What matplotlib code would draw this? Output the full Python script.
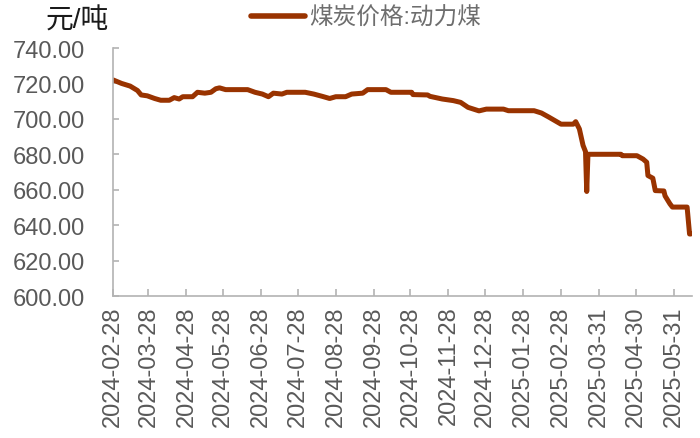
import matplotlib
matplotlib.use("Agg")
import matplotlib.pyplot as plt
import matplotlib.dates as mdates
import pandas as pd

plt.rcParams['font.family'] = ['Liberation Sans', 'Noto Sans CJK SC', 'DejaVu Sans']

dates = [
    "2024-02-28", "2024-03-06", "2024-03-13", "2024-03-19", "2024-03-22", "2024-03-27",
    "2024-04-02", "2024-04-07", "2024-04-14", "2024-04-18", "2024-04-22", "2024-04-25",
    "2024-05-03", "2024-05-07", "2024-05-13", "2024-05-18", "2024-05-22", "2024-05-25",
    "2024-05-30", "2024-06-17", "2024-06-23", "2024-06-29", "2024-07-04", "2024-07-08",
    "2024-07-15", "2024-07-19", "2024-08-03", "2024-08-10", "2024-08-17", "2024-08-23",
    "2024-08-28", "2024-09-05", "2024-09-10", "2024-09-19", "2024-09-23", "2024-10-08",
    "2024-10-12", "2024-10-29", "2024-10-30", "2024-11-11", "2024-11-13", "2024-11-23",
    "2024-12-02", "2024-12-08", "2024-12-14", "2024-12-23", "2024-12-29", "2025-01-12",
    "2025-01-16", "2025-02-06", "2025-02-12", "2025-02-18", "2025-02-28", "2025-03-10",
    "2025-03-12", "2025-03-15", "2025-03-18", "2025-03-20", "2025-03-21", "2025-03-22",
    "2025-04-18", "2025-04-19", "2025-05-01", "2025-05-06", "2025-05-09", "2025-05-10",
    "2025-05-14", "2025-05-16", "2025-05-23", "2025-05-24", "2025-05-28", "2025-05-30",
    "2025-06-11", "2025-06-13", "2025-06-14",
]
prices = [
    722.0, 720.0, 718.5, 716.0, 713.5, 713.0,
    711.5, 710.5, 710.5, 712.0, 711.2, 712.5,
    712.5, 715.0, 714.5, 715.0, 717.0, 717.5,
    716.5, 716.5, 715.0, 714.0, 712.5, 714.5,
    714.0, 715.0, 715.0, 714.0, 712.7, 711.5,
    712.5, 712.5, 714.0, 714.5, 716.5, 716.5,
    715.0, 715.0, 713.7, 713.5, 712.7, 711.2,
    710.3, 709.3, 706.5, 704.5, 705.5, 705.5,
    704.6, 704.6, 703.3, 701.0, 697.0, 697.0,
    698.4, 694.3, 685.0, 681.5, 659.0, 680.0,
    680.0, 679.2, 679.2, 677.3, 675.5, 668.0,
    666.5, 659.5, 659.3, 656.5, 652.0, 650.2,
    650.2, 635.0, 635.0,
]
tick_dates = [
    "2024-02-28", "2024-03-28", "2024-04-28", "2024-05-28", "2024-06-28", "2024-07-28",
    "2024-08-28", "2024-09-28", "2024-10-28", "2024-11-28", "2024-12-28", "2025-01-28",
    "2025-02-28", "2025-03-31", "2025-04-30", "2025-05-31",
]
y_ticks = [600, 620, 640, 660, 680, 700, 720, 740]
series_name = "煤炭价格:动力煤"
unit_label = "元/吨"

x = pd.to_datetime(dates)
xt = pd.to_datetime(tick_dates)

fig = plt.figure(figsize=(7.0, 4.39), dpi=100)
ax = fig.add_axes([113/700, 1-297/439, (692-113)/700, (297-49)/439])

line_color = "#993300"
ax.plot(x, prices, color=line_color, lw=3.6, solid_capstyle='round', solid_joinstyle='round',
        label=series_name)

ax.set_ylim(600, 740)
ax.set_yticks(y_ticks)
ax.set_yticklabels([f"{v:.2f}" for v in y_ticks])
ax.set_xlim(pd.Timestamp("2024-02-28"), pd.Timestamp("2025-06-15"))
ax.set_xticks(xt)
ax.set_xticklabels([d.strftime("%Y-%m-%d") for d in xt], rotation=90)

spine_c = "#b3b3b3"
for s in ["top", "right"]:
    ax.spines[s].set_visible(False)
for s in ["left", "bottom"]:
    ax.spines[s].set_color(spine_c)
    ax.spines[s].set_linewidth(1.2)
ax.tick_params(axis='y', direction='in', length=4, width=1.2, color=spine_c,
               labelsize=17, labelcolor="#595959", pad=20)
ax.tick_params(axis='x', direction='in', length=5, width=1.2, color=spine_c,
               labelsize=17, labelcolor="#595959", pad=7)

fig.text(46/700, 1-21/439, unit_label, fontsize=20, color="#1a1a1a", va='center', ha='left')

leg = ax.legend(loc='center', bbox_to_anchor=(366/700, 1-19/439), bbox_transform=fig.transFigure,
                frameon=False, fontsize=17, handlelength=2.3, handletextpad=0.2, borderpad=0)
for t in leg.get_texts():
    t.set_color("#6e6e6e")
for h in leg.get_lines():
    h.set_linewidth(4.0)
    h.set_solid_capstyle('round')

fig.savefig("out.png", dpi=100)
